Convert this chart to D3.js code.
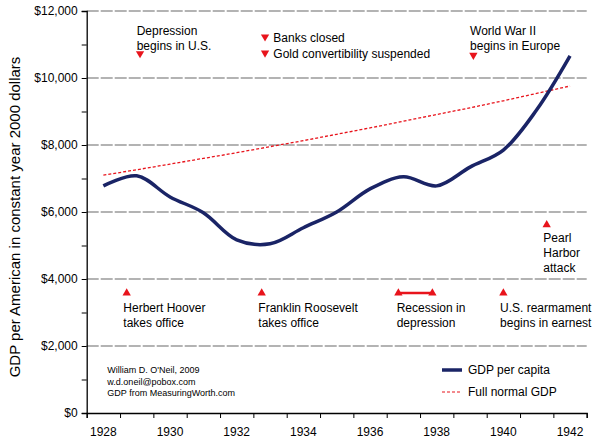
<!DOCTYPE html>
<html>
<head>
<meta charset="utf-8">
<script src="https://d3js.org/d3.v7.min.js"></script>
<style>
body { margin: 0; background: #fff; }
text { font-family: "Liberation Sans", Arial, sans-serif; }
</style>
</head>
<body>
<div id="chart"></div>
<script>
// data
var years = [1928, 1929, 1930, 1931, 1932, 1933, 1934, 1935, 1936, 1937, 1938, 1939, 1940, 1941, 1942];
var gdpPerCapita = [6780, 7080, 6450, 5980, 5170, 5050, 5530, 6000, 6690, 7050, 6780, 7340, 7850, 9050, 10660];
var fullNormal = [7100, 7260, 7430, 7600, 7770, 7950, 8130, 8320, 8510, 8710, 8910, 9110, 9320, 9540, 9760];
var yTicks = [0, 2000, 4000, 6000, 8000, 10000, 12000];
var xLabels = [1928, 1930, 1932, 1934, 1936, 1938, 1940, 1942];

// events: year position, value, direction, label lines
var eventsTop = [
  {year: 1929.1, lines: ["Depression", "begins in U.S."], textYear: 1929.0, tri: 10700, text: 11400},
  {year: 1932.85, lines: ["Banks closed"], textYear: 1933.1, tri: 11200, text: 11200, inline: true},
  {year: 1932.85, lines: ["Gold convertibility suspended"], textYear: 1933.1, tri: 10720, text: 10720, inline: true},
  {year: 1939.1, lines: ["World War II", "begins in Europe"], textYear: 1939.0, tri: 10650, text: 11400}
];
var eventsBottom = [
  {year: 1928.7, lines: ["Herbert Hoover", "takes office"], textYear: 1928.6},
  {year: 1932.75, lines: ["Franklin Roosevelt", "takes office"], textYear: 1932.65},
  {year: 1936.85, lines: ["Recession in", "depression"], textYear: 1936.8, end: 1937.87},
  {year: 1940.0, lines: ["U.S. rearmament", "begins in earnest"], textYear: 1939.9}
];
var pearl = {year: 1941.3, lines: ["Pearl", "Harbor", "attack"], textYear: 1941.2};
var credits = ["William D. O'Neil, 2009", "w.d.oneil@pobox.com", "GDP from MeasuringWorth.com"];

var W = 595, H = 443;
var margin = {left: 86.7, right: 8.3, top: 11, bottom: 30};

var svg = d3.select("#chart").append("svg")
  .attr("width", W).attr("height", H);

var x = d3.scaleLinear()
  .domain([1927.5, 1942.5])
  .range([margin.left, W - margin.right]);
var y = d3.scaleLinear()
  .domain([0, 12000])
  .range([H - margin.bottom, margin.top]);

// gridlines
svg.append("g")
  .selectAll("line")
  .data(yTicks.filter(function(d) { return d > 0; }))
  .enter().append("line")
    .attr("x1", x(1927.5)).attr("x2", x(1942.5))
    .attr("y1", function(d) { return y(d); })
    .attr("y2", function(d) { return y(d); })
    .attr("stroke", "#9a9a9a")
    .attr("stroke-width", 1.3)
    .attr("stroke-dasharray", "12,2");

// y axis
var yAxis = svg.append("g")
  .attr("transform", "translate(" + x(1927.5) + ",0)")
  .call(d3.axisLeft(y).tickValues(d3.range(0, 12001, 1000)).tickSize(5).tickPadding(4)
    .tickFormat(function(d) { return d % 2000 === 0 ? "$" + d3.format(",")(d) : ""; }));
yAxis.selectAll("text").style("font-size", "12px").attr("fill", "#000");
yAxis.select(".domain").attr("stroke", "#000").attr("stroke-width", 1.3);

// x axis
var xAxis = svg.append("g")
  .attr("transform", "translate(0," + y(0) + ")")
  .call(d3.axisBottom(x).tickValues(d3.range(1927.5, 1942.6, 1)).tickSize(5).tickFormat(""));
xAxis.select(".domain").attr("stroke", "#000").attr("stroke-width", 1.3);

svg.append("g").selectAll("text")
  .data(xLabels)
  .enter().append("text")
    .attr("x", function(d) { return x(d); })
    .attr("y", y(0) + 23)
    .attr("text-anchor", "middle")
    .style("font-size", "12px")
    .text(function(d) { return d; });

// y label
svg.append("text")
  .attr("transform", "translate(20," + ((y(0) + y(12000)) / 2 + 5) + ") rotate(-90)")
  .attr("text-anchor", "middle")
  .style("font-size", "15px")
  .text("GDP per American in constant year 2000 dollars");

// lines
var pts = years.map(function(d, i) { return [d, gdpPerCapita[i]]; });
var pts2 = years.map(function(d, i) { return [d, fullNormal[i]]; });

svg.append("path")
  .datum(pts2)
  .attr("fill", "none")
  .attr("stroke", "#e8141c")
  .attr("stroke-width", 1.3)
  .attr("stroke-dasharray", "3,2")
  .attr("d", d3.line().x(function(d) { return x(d[0]); }).y(function(d) { return y(d[1]); }));

svg.append("path")
  .datum(pts)
  .attr("fill", "none")
  .attr("stroke", "#1a2466")
  .attr("stroke-width", 3.5)
  .attr("d", d3.line().curve(d3.curveCatmullRom.alpha(0.5))
    .x(function(d) { return x(d[0]); }).y(function(d) { return y(d[1]); }));

// triangles
var tri = d3.symbol().type(d3.symbolTriangle).size(30);
function triangle(px, py, down) {
  svg.append("path")
    .attr("d", tri)
    .attr("transform", "translate(" + px + "," + py + ")" + (down ? " rotate(180)" : ""))
    .attr("fill", "#e8141c");
}
function label(px, py, lines) {
  var t = svg.append("text").attr("x", px).attr("y", py).style("font-size", "12px");
  lines.forEach(function(l, i) {
    t.append("tspan").attr("x", px).attr("dy", i === 0 ? 0 : 15).text(l);
  });
}

eventsTop.forEach(function(e) {
  triangle(x(e.year), y(e.tri) - 1, true);
  if (e.inline) label(x(e.textYear), y(e.text) + 4, e.lines);
  else label(x(e.textYear), y(e.text) + 4, e.lines);
});

var bottomTri = 3580;
eventsBottom.forEach(function(e) {
  if (e.end) {
    svg.append("line")
      .attr("x1", x(e.year)).attr("x2", x(e.end))
      .attr("y1", y(bottomTri)).attr("y2", y(bottomTri))
      .attr("stroke", "#e8141c").attr("stroke-width", 2.5);
    triangle(x(e.end), y(bottomTri), false);
  }
  triangle(x(e.year), y(bottomTri), false);
  label(x(e.textYear), y(bottomTri) + 19, e.lines);
});

triangle(x(pearl.year), y(5620), false);
label(x(pearl.textYear), y(5620) + 17, pearl.lines);

// credits
var c = svg.append("text").attr("x", x(1928.0)).attr("y", 373).style("font-size", "9px");
credits.forEach(function(l, i) {
  c.append("tspan").attr("x", x(1927.55) + 19).attr("dy", i === 0 ? 0 : 11.5).text(l);
});

// legend
var lg = svg.append("g").attr("transform", "translate(442,0)");
lg.append("line").attr("x1", 0).attr("x2", 20).attr("y1", 370).attr("y2", 370)
  .attr("stroke", "#1a2466").attr("stroke-width", 3.5);
lg.append("text").attr("x", 26).attr("y", 374).style("font-size", "12px").text("GDP per capita");
lg.append("line").attr("x1", 0).attr("x2", 20).attr("y1", 392).attr("y2", 392)
  .attr("stroke", "#e8141c").attr("stroke-width", 1.2).attr("stroke-dasharray", "3,2");
lg.append("text").attr("x", 26).attr("y", 396).style("font-size", "12px").text("Full normal GDP");
</script>
</body>
</html>
